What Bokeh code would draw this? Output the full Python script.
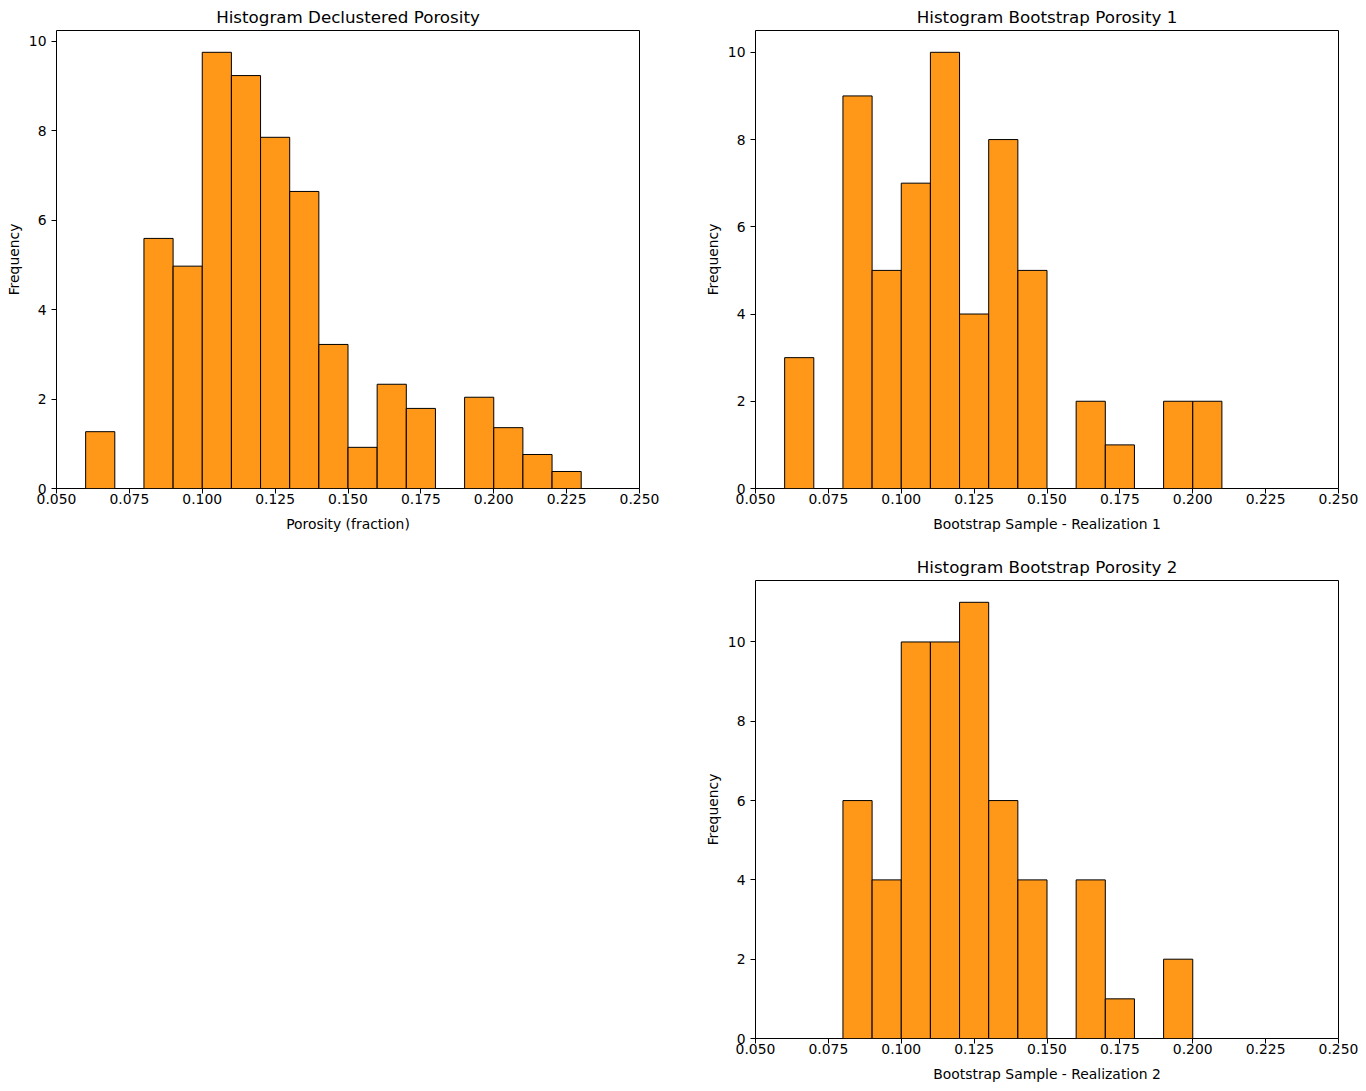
from bokeh.plotting import figure
from bokeh.layouts import column, row
from bokeh.models import Spacer, FixedTicker, PrintfTickFormatter, ColumnDataSource
from bokeh.embed import file_html
from bokeh.resources import INLINE

# ---- data ----
bin_width = 0.01

declus_bin_left = [0.06, 0.07, 0.08, 0.09, 0.10, 0.11, 0.12, 0.13, 0.14, 0.15, 0.16, 0.17, 0.18, 0.19, 0.20, 0.21, 0.22]
declus_freq = [1.27, 0.0, 5.59, 4.97, 9.75, 9.23, 7.85, 6.64, 3.22, 0.92, 2.33, 1.79, 0.0, 2.04, 1.36, 0.76, 0.38]

boot1_bin_left = [0.06, 0.07, 0.08, 0.09, 0.10, 0.11, 0.12, 0.13, 0.14, 0.15, 0.16, 0.17, 0.18, 0.19, 0.20]
boot1_freq = [3, 0, 9, 5, 7, 10, 4, 8, 5, 0, 2, 1, 0, 2, 2]

boot2_bin_left = [0.08, 0.09, 0.10, 0.11, 0.12, 0.13, 0.14, 0.15, 0.16, 0.17, 0.18, 0.19]
boot2_freq = [6, 4, 10, 10, 11, 6, 4, 0, 4, 1, 0, 2]

x_ticks = [0.050, 0.075, 0.100, 0.125, 0.150, 0.175, 0.200, 0.225, 0.250]

FONT = "DejaVu Sans"


def hist_fig(title, xlabel, lefts, freqs, yticks, left_b, right_b, top_b, bottom_b):
    ymax = max(freqs) * 1.05
    p = figure(output_backend="svg", toolbar_location=None,
               frame_width=583, frame_height=458,
               x_range=(0.05, 0.25), y_range=(0, ymax),
               min_border_left=left_b, min_border_right=right_b,
               min_border_top=top_b, min_border_bottom=bottom_b,
               title=title)
    l = [a for a, f in zip(lefts, freqs) if f > 0]
    r = [a + bin_width for a, f in zip(lefts, freqs) if f > 0]
    t = [f for f in freqs if f > 0]
    src = ColumnDataSource(dict(left=l, right=r, top=t, bottom=[0] * len(t)))
    p.quad(left="left", right="right", top="top", bottom="bottom", source=src,
           fill_color="darkorange", fill_alpha=0.9, line_color="black", line_width=1)
    p.title.align = "center"
    p.title.text_font = FONT
    p.title.text_font_size = "16.7px"
    p.title.text_font_style = "normal"
    p.title.text_color = "black"
    p.title.standoff = 8
    p.xgrid.visible = False
    p.ygrid.visible = False
    p.outline_line_color = "black"
    p.outline_line_alpha = 1
    p.outline_line_width = 1
    p.xaxis.ticker = FixedTicker(ticks=x_ticks)
    p.xaxis.formatter = PrintfTickFormatter(format="%.3f")
    p.yaxis.ticker = FixedTicker(ticks=yticks)
    p.xaxis.axis_label = xlabel
    p.yaxis.axis_label = "Frequency"
    for ax in (p.xaxis, p.yaxis):
        ax.axis_line_color = None
        ax.major_tick_in = 0
        ax.major_tick_out = 5
        ax.minor_tick_line_color = None
        ax.major_tick_line_color = "black"
        ax.major_label_text_font = FONT
        ax.major_label_text_font_size = "13.9px"
        ax.major_label_text_color = "black"
        ax.axis_label_text_font = FONT
        ax.axis_label_text_font_size = "13.9px"
        ax.axis_label_text_font_style = "normal"
        ax.axis_label_text_color = "black"
    p.xaxis.major_label_standoff = 0
    p.xaxis.axis_label_standoff = 9
    p.yaxis.major_label_standoff = 5
    p.yaxis.axis_label_standoff = 4
    return p


p1 = hist_fig("Histogram Declustered Porosity", "Porosity (fraction)",
              declus_bin_left, declus_freq, [0, 2, 4, 6, 8, 10], 56, 62, 30, 62)
p2 = hist_fig("Histogram Bootstrap Porosity 1", "Bootstrap Sample - Realization 1",
              boot1_bin_left, boot1_freq, [0, 2, 4, 6, 8, 10], 48, 20, 30, 62)
p3 = hist_fig("Histogram Bootstrap Porosity 2", "Bootstrap Sample - Realization 2",
              boot2_bin_left, boot2_freq, [0, 2, 4, 6, 8, 10], 48, 20, 30, 37)

layout = column(row(p1, p2), row(Spacer(width=701, height=10), p3))

open("out.html", "w").write(file_html(layout, INLINE))
